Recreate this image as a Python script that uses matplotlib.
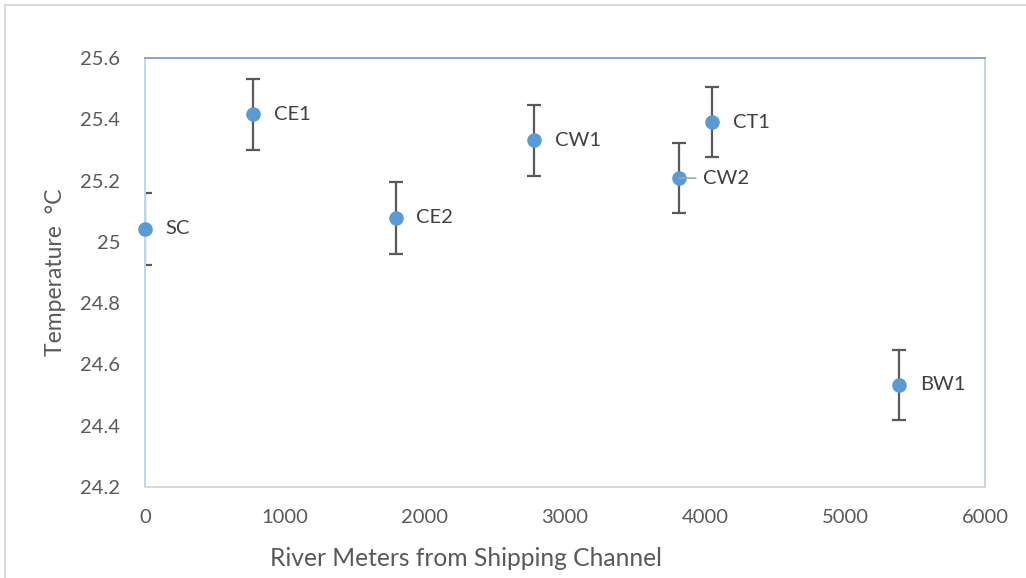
import matplotlib
matplotlib.use("Agg")
import matplotlib.pyplot as plt
from matplotlib.patches import Rectangle

# Station data: distance upstream from the shipping channel and mean temperature
stations = ["SC", "CE1", "CE2", "CW1", "CW2", "CT1", "BW1"]
distance_m = [0, 770, 1790, 2780, 3815, 4050, 5385]
temperature_c = [25.042, 25.417, 25.078, 25.332, 25.208, 25.391, 24.533]
temp_error = [0.118, 0.116, 0.116, 0.116, 0.115, 0.114, 0.114]

x_ticks = [0, 1000, 2000, 3000, 4000, 5000, 6000]
y_ticks = [24.2, 24.4, 24.6, 24.8, 25.0, 25.2, 25.4, 25.6]
y_tick_labels = ["24.2", "24.4", "24.6", "24.8", "25", "25.2", "25.4", "25.6"]

plt.rcParams["font.family"] = ["Lato", "DejaVu Sans"]
text_color = "#595959"

fig = plt.figure(figsize=(10.26, 5.78), dpi=100)
ax = fig.add_axes([145 / 1026, 1 - 487 / 578, 840 / 1026, 429 / 578])

# Outer chart border (runs off the right and bottom edges)
fig.patches.append(Rectangle((4.5 / 1026, -10 / 578), 1040 / 1026, 583 / 578,
                             transform=fig.transFigure, fill=False,
                             edgecolor="#D9D9D9", linewidth=1.4))

ax.errorbar(distance_m, temperature_c, yerr=temp_error, fmt="none",
            ecolor="#595959", elinewidth=1.6, capsize=5, capthick=1.6, zorder=2)
ax.plot(distance_m, temperature_c, "o", color="#5B9BD5", markersize=10.5,
        markeredgewidth=0, zorder=3, clip_on=False)

for name, x, y in zip(stations, distance_m, temperature_c):
    if name == "CW2":
        ax.annotate(name, xy=(x, y), xytext=(17, 0), textcoords="offset points",
                    va="center", ha="left", fontsize=14.5, color="#404040",
                    arrowprops=dict(arrowstyle="-", color="#A6A6A6", lw=1.2,
                                    shrinkA=3, shrinkB=0, relpos=(0, 0.5)))
    else:
        ax.annotate(name, xy=(x, y), xytext=(15, 0), textcoords="offset points",
                    va="center", ha="left", fontsize=14.5, color="#404040")

ax.set_xlim(0, 6000)
ax.set_ylim(24.2, 25.6)
ax.set_xticks(x_ticks)
ax.set_yticks(y_ticks)
ax.set_yticklabels(y_tick_labels)
ax.tick_params(length=0, labelsize=14.5, colors=text_color)
ax.tick_params(axis="x", pad=16)
ax.tick_params(axis="y", pad=18)

ax.spines["top"].set_color("#8FA5C6")
ax.spines["left"].set_color("#BDD7EE")
ax.spines["right"].set_color("#BDD7EE")
ax.spines["bottom"].set_color("#D9D9D9")
for s in ax.spines.values():
    s.set_linewidth(1.4)

ax.set_xlabel("River Meters from Shipping Channel", fontsize=17.7,
              color=text_color, labelpad=12)
ax.xaxis.set_label_coords(0.382, -0.14)
ax.set_ylabel("Temperature  \u00b0C", fontsize=16.5, color=text_color, labelpad=10)

fig.savefig("out.png", dpi=100)
